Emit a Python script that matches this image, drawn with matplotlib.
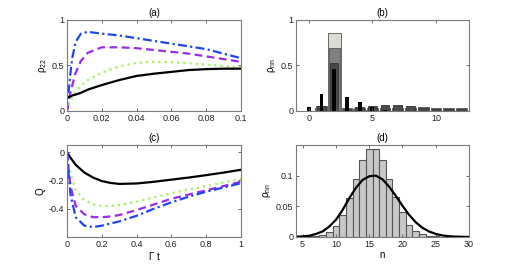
import numpy as np
from matplotlib import pyplot as plt

plt.rcParams['font.family'] = ['Liberation Sans', 'DejaVu Sans']
plt.rcParams['font.size'] = 6.5
plt.rcParams['mathtext.fontset'] = 'custom'
plt.rcParams['mathtext.rm'] = 'Liberation Sans'
plt.rcParams['mathtext.it'] = 'Liberation Sans'

# (a) rho_22 vs time
ta = [0, 0.001, 0.002, 0.003, 0.005, 0.008, 0.012, 0.02, 0.03, 0.04, 0.05, 0.06, 0.07, 0.08, 0.09, 0.1]
a_blue = [0, 0.22, 0.42, 0.58, 0.76, 0.85, 0.87, 0.85, 0.83, 0.80, 0.77, 0.74, 0.71, 0.68, 0.63, 0.58]
a_purple = [0, 0.1, 0.2, 0.28, 0.42, 0.55, 0.64, 0.70, 0.70, 0.69, 0.67, 0.65, 0.63, 0.60, 0.57, 0.54]
a_green = [0, 0.06, 0.11, 0.15, 0.21, 0.28, 0.34, 0.42, 0.49, 0.53, 0.54, 0.535, 0.525, 0.51, 0.495, 0.48]
a_black = [0.15, 0.155, 0.16, 0.17, 0.18, 0.2, 0.235, 0.285, 0.34, 0.385, 0.41, 0.43, 0.45, 0.46, 0.465, 0.465]

# (c) Q vs time
tc = [0, 0.01, 0.02, 0.05, 0.1, 0.15, 0.2, 0.25, 0.3, 0.4, 0.5, 0.6, 0.7, 0.8, 0.9, 1.0]
c_black = [0, -0.02, -0.04, -0.09, -0.145, -0.18, -0.205, -0.218, -0.225, -0.222, -0.21, -0.195, -0.18, -0.163, -0.145, -0.125]
c_green = [0, -0.08, -0.15, -0.27, -0.34, -0.37, -0.38, -0.38, -0.375, -0.35, -0.32, -0.29, -0.265, -0.24, -0.215, -0.19]
c_purple = [0, -0.13, -0.24, -0.38, -0.44, -0.46, -0.46, -0.455, -0.445, -0.41, -0.37, -0.33, -0.30, -0.27, -0.24, -0.21]
c_blue = [0, -0.16, -0.30, -0.46, -0.52, -0.53, -0.52, -0.505, -0.49, -0.45, -0.4, -0.355, -0.315, -0.28, -0.25, -0.22]

# (b) photon number distributions
nb = np.arange(0, 13)
b_light = [0, 0.03, 0.86, 0.02, 0.01, 0, 0, 0, 0, 0, 0, 0, 0]
b_mid = [0, 0.05, 0.69, 0.03, 0.03, 0.03, 0.03, 0.03, 0.03, 0.045, 0.03, 0.03, 0.035]
b_dark = [0, 0.06, 0.53, 0.02, 0.04, 0.06, 0.07, 0.07, 0.06, 0.03, 0.02, 0.02, 0.02]
b_black = [0.04, 0.19, 0.46, 0.15, 0.10, 0.04, 0.01, 0.005, 0, 0, 0, 0, 0]

# (d) distribution with reference curve
nd = np.arange(5, 27)
d_bars = [0.0005, 0.0008, 0.001, 0.003, 0.008, 0.018, 0.036, 0.063, 0.095, 0.126, 0.144, 0.144,
          0.126, 0.095, 0.066, 0.040, 0.020, 0.010, 0.005, 0.002, 0.001, 0.0005]
nc = np.arange(4, 31)
d_curve = [0.0005, 0.001, 0.002, 0.005, 0.009, 0.017, 0.028, 0.044, 0.063, 0.08, 0.093, 0.099, 0.1,
           0.094, 0.082, 0.067, 0.051, 0.036, 0.024, 0.015, 0.009, 0.005, 0.0025, 0.0012, 0.0006,
           0.0003, 0.0001]

blue = '#1f45f0'
purple = '#9a2be8'
green = '#a6f060'

fig = plt.figure(figsize=(5.18, 2.67), dpi=100)
ax_a = fig.add_axes([0.1293, 0.5843, 0.336, 0.3408])
ax_b = fig.add_axes([0.5714, 0.5843, 0.334, 0.3408])
ax_c = fig.add_axes([0.1293, 0.1124, 0.336, 0.3446])
ax_d = fig.add_axes([0.5714, 0.1124, 0.334, 0.3446])


def style(ax):
    for s in ax.spines.values():
        s.set_color('#7a7a7a')
        s.set_linewidth(0.8)
    ax.tick_params(direction='in', top=True, right=True, length=2, width=0.6,
                   color='#555555', labelcolor='#222222', pad=2)


ax_a.plot(ta, a_blue, color=blue, lw=1.6, ls=(0, (4, 1.5, 1, 1.5)))
ax_a.plot(ta, a_purple, color=purple, lw=1.6, ls=(0, (3.5, 2)))
ax_a.plot(ta, a_green, color=green, lw=1.6, ls=(0, (1, 1.8)))
ax_a.plot(ta, a_black, color='black', lw=1.6)
ax_a.set_xlim(0, 0.1)
ax_a.set_ylim(0, 1)
ax_a.set_xticks([0, 0.02, 0.04, 0.06, 0.08, 0.1])
ax_a.set_xticklabels(['0', '0.02', '0.04', '0.06', '0.08', '0.1'])
ax_a.set_yticks([0, 0.5, 1])
ax_a.set_yticklabels(['0', '0.5', '1'])
ax_a.set_title('(a)', fontsize=7, pad=3)
ax_a.set_ylabel(r'$\rho_{22}$', fontsize=7, labelpad=2)
style(ax_a)

ax_b.bar(nb, b_light, width=1.0, color='#d8dcd2', edgecolor='#555555', lw=0.6)
ax_b.bar(nb, b_mid, width=0.85, color='#808080', edgecolor='#555555', lw=0.6)
ax_b.bar(nb, b_dark, width=0.68, color='#4a4a4a', edgecolor='#333333', lw=0.6)
ax_b.bar(nb, b_black, width=0.3, color='black', lw=0)
ax_b.set_xlim(-1, 12.6)
ax_b.set_ylim(0, 1)
ax_b.set_xticks([0, 5, 10])
ax_b.set_yticks([0, 0.5, 1])
ax_b.set_yticklabels(['0', '0.5', '1'])
ax_b.set_title('(b)', fontsize=7, pad=3)
ax_b.set_ylabel(r'$\rho_{nn}$', fontsize=7, labelpad=2)
style(ax_b)

ax_c.plot(tc, c_black, color='black', lw=1.6)
ax_c.plot(tc, c_green, color=green, lw=1.6, ls=(0, (1, 1.8)))
ax_c.plot(tc, c_purple, color=purple, lw=1.6, ls=(0, (3.5, 2)))
ax_c.plot(tc, c_blue, color=blue, lw=1.6, ls=(0, (4, 1.5, 1, 1.5)))
ax_c.set_xlim(0, 1)
ax_c.set_ylim(-0.6, 0.05)
ax_c.set_xticks([0, 0.2, 0.4, 0.6, 0.8, 1])
ax_c.set_xticklabels(['0', '0.2', '0.4', '0.6', '0.8', '1'])
ax_c.set_yticks([-0.4, -0.2, 0])
ax_c.set_yticklabels(['-0.4', '-0.2', '0'])
ax_c.set_title('(c)', fontsize=7, pad=3)
ax_c.set_ylabel('Q', fontsize=7, labelpad=2)
ax_c.set_xlabel(r'$\Gamma$ t', fontsize=7, labelpad=1)
style(ax_c)

ax_d.bar(nd, d_bars, width=1.0, color='#c8c8c8', edgecolor='#555555', lw=0.8)
ax_d.plot(nc, d_curve, color='black', lw=1.6)
ax_d.set_xlim(4, 30)
ax_d.set_ylim(0, 0.15)
ax_d.set_xticks([5, 10, 15, 20, 25, 30])
ax_d.set_yticks([0, 0.05, 0.1])
ax_d.set_yticklabels(['0', '0.05', '0.1'])
ax_d.set_title('(d)', fontsize=7, pad=3)
ax_d.set_ylabel(r'$\rho_{nn}$', fontsize=7, labelpad=2)
ax_d.set_xlabel('n', fontsize=7, labelpad=1)
style(ax_d)

fig.savefig('out.png', dpi=100)
